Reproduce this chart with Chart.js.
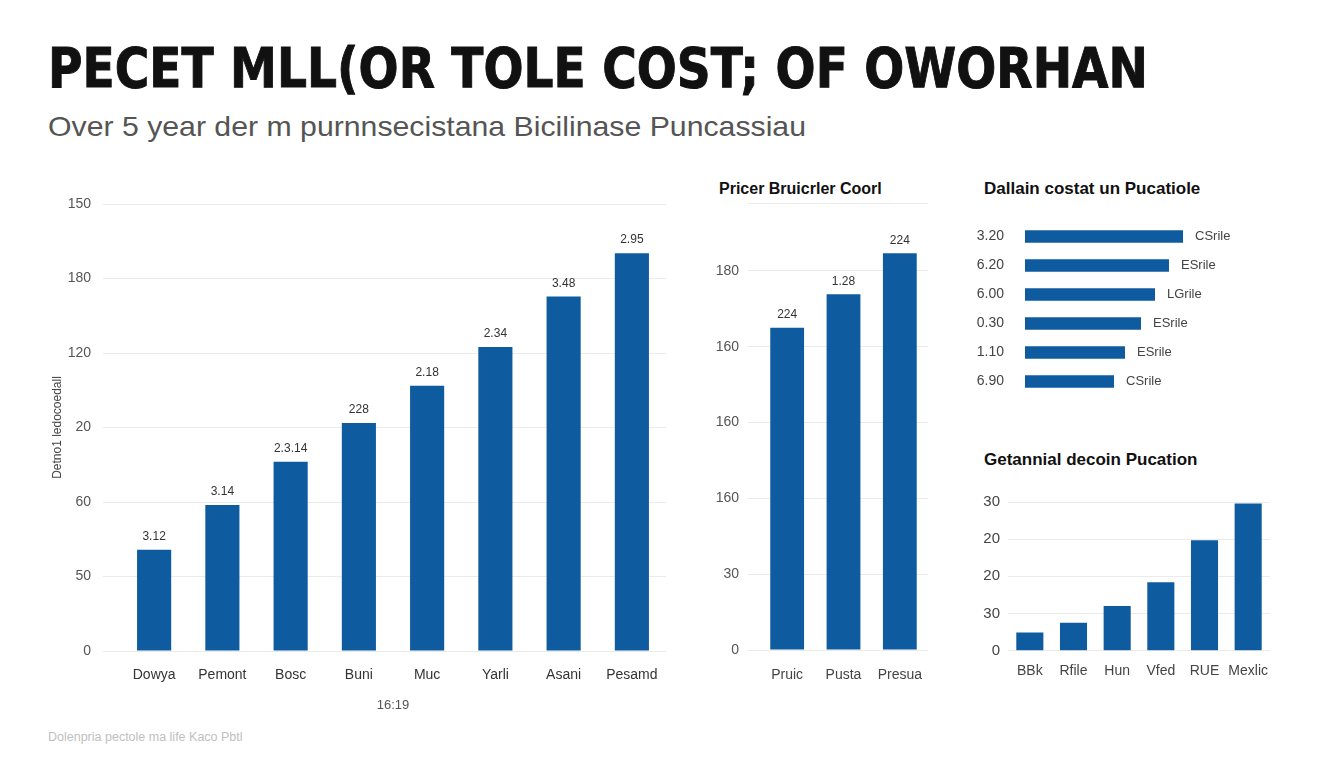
<!DOCTYPE html>
<html>
<head>
<meta charset="utf-8">
<script src="https://cdn.jsdelivr.net/npm/chart.js@4.4.1/dist/chart.umd.min.js"></script>
<style>
    body {
        margin: 0;
        width: 1344px;
        height: 768px;
        background: #fff;
        overflow: hidden;
        position: relative;
        font-family: "Liberation Sans", Arial, sans-serif;
    }
    .abs { position: absolute; }
    #title {
        left: 48px; top: 41px;
        font-family: "DejaVu Sans", sans-serif;
        font-size: 55px; font-weight: bold; line-height: 1;
        color: #111; white-space: nowrap;
        -webkit-text-stroke: 1px #111;
        transform-origin: left top;
    }
    #subtitle {
        left: 48px; top: 113px;
        font-size: 28px; line-height: 1;
        color: #555; white-space: nowrap;
        transform-origin: left top;
    }
    .ptitle {
        font-weight: bold; line-height: 1;
        color: #111; white-space: nowrap;
    }
    #footer {
        left: 48px; top: 731px;
        font-size: 12.5px; line-height: 1;
        color: #c0c0c0; white-space: nowrap;
    }
</style>
</head>
<body>
<div id="title" class="abs">PECET MLL(OR TOLE COST; OF OWORHAN</div>
<div id="subtitle" class="abs">Over 5 year der m purnnsecistana Bicilinase Puncassiau</div>

<div class="abs" style="left:40px; top:180px;"><canvas id="mainChart" width="650" height="533"></canvas></div>

<div class="abs ptitle" style="left:719px; top:181px; font-size:16px;">Pricer Bruicrler Coorl</div>
<div class="abs" style="left:690px; top:170px;"><canvas id="midChart" width="260" height="520"></canvas></div>

<div class="abs ptitle" style="left:984px; top:180px; font-size:17px;">Dallain costat un Pucatiole</div>
<div class="abs" style="left:960px; top:215px;"><canvas id="hbarChart" width="340" height="181"></canvas></div>

<div class="abs ptitle" style="left:984px; top:451px; font-size:17px;">Getannial decoin Pucation</div>
<div class="abs" style="left:960px; top:480px;"><canvas id="smallChart" width="340" height="220"></canvas></div>

<div id="footer" class="abs">Dolenpria pectole ma life Kaco Pbtl</div>

<script>
// Main chart data
const mainCategories = ['Dowya', 'Pemont', 'Bosc', 'Buni', 'Muc', 'Yarli', 'Asani', 'Pesamd'];
const mainValues = [34, 49, 63.5, 76.5, 89, 102, 119, 133.5];
const mainValueLabels = ['3.12', '3.14', '2.3.14', '228', '2.18', '2.34', '3.48', '2.95'];
const mainTickLabels = ['0', '50', '60', '20', '120', '180', '150'];

// Middle chart data
const midCategories = ['Pruic', 'Pusta', 'Presua'];
const midValues = [4.25, 4.69, 5.23];
const midValueLabels = ['224', '1.28', '224'];
const midTickValues = [0, 1, 2, 3, 4, 5, 5.894];
const midTickLabels = ['0', '30', '160', '160', '160', '180', ''];

// Horizontal bars (top right)
const hbarCategories = ['3.20', '6.20', '6.00', '0.30', '1.10', '6.90'];
const hbarValues = [158, 144, 130, 116, 100, 89];
const hbarEndLabels = ['CSrile', 'ESrile', 'LGrile', 'ESrile', 'ESrile', 'CSrile'];

// Small chart (bottom right)
const smallCategories = ['BBk', 'Rfile', 'Hun', 'Vfed', 'RUE', 'Mexlic'];
const smallValues = [4.9, 7.5, 12, 18.4, 29.7, 39.6];
const smallTickValues = [0, 10, 20, 30, 40];
const smallTickLabels = ['0', '30', '20', '20', '30'];

const BLUE = '#0e5ba0';
const GRID = '#ebebeb';
const FONT = '"Liberation Sans", Arial, sans-serif';

Chart.defaults.font.family = FONT;
Chart.defaults.color = '#444';
Chart.defaults.animation = false;

// fit heading widths to the layout
function fitWidth(id, target) {
    const el = document.getElementById(id);
    const w = el.getBoundingClientRect().width;
    el.style.transform = `scaleX(${target / w})`;
}
fitWidth('title', 1100);
fitWidth('subtitle', 758);

// Text next to bars
const barLabels = {
    id: 'barLabels',
    afterDatasetsDraw(chart, args, opts) {
        if (!opts.labels) return;
        const ctx = chart.ctx;
        const meta = chart.getDatasetMeta(0);
        ctx.save();
        ctx.font = opts.font;
        ctx.fillStyle = opts.color;
        meta.data.forEach((bar, i) => {
            if (opts.horizontal) {
                ctx.textAlign = 'left';
                ctx.textBaseline = 'middle';
                ctx.fillText(opts.labels[i], bar.x + opts.gap, bar.y);
            } else {
                ctx.textAlign = 'center';
                ctx.textBaseline = 'bottom';
                ctx.fillText(opts.labels[i], bar.x, bar.y - opts.gap);
            }
        });
        ctx.restore();
    }
};
Chart.register(barLabels);

const fixWidth = (w) => (scale) => { scale.width = w; };
const fixHeight = (h) => (scale) => { scale.height = h; };

// 1. Main chart
new Chart(document.getElementById('mainChart'), {
    type: 'bar',
    data: {
        labels: mainCategories,
        datasets: [{ data: mainValues, backgroundColor: BLUE, barPercentage: 0.5, categoryPercentage: 1 }]
    },
    options: {
        responsive: false,
        layout: { padding: { top: 24, right: 24, left: 0, bottom: 0 } },
        plugins: {
            legend: { display: false },
            tooltip: { enabled: false },
            barLabels: { labels: mainValueLabels, font: '12px ' + FONT, color: '#333', gap: 7 }
        },
        scales: {
            x: {
                grid: { display: false },
                border: { display: false },
                ticks: { font: { size: 14 }, color: '#333', padding: 8, maxRotation: 0, autoSkip: false },
                title: { display: true, text: '16:19', font: { size: 13 }, color: '#555', padding: { top: 0, bottom: 0 } },
                afterFit: fixHeight(62)
            },
            y: {
                min: 0, max: 150,
                grid: { color: GRID, tickLength: 17 },
                border: { display: false },
                ticks: { stepSize: 25, font: { size: 14 }, color: '#555', padding: 12,
                    callback: (v, i) => mainTickLabels[i] },
                title: { display: true, text: 'Detno1 ledocoedall', font: { size: 12 }, color: '#444', padding: { top: 10, bottom: 0 } },
                afterFit: fixWidth(80)
            }
        }
    }
});

// 2. Middle chart
new Chart(document.getElementById('midChart'), {
    type: 'bar',
    data: {
        labels: midCategories,
        datasets: [{ data: midValues, backgroundColor: BLUE, barPercentage: 0.6, categoryPercentage: 1 }]
    },
    options: {
        responsive: false,
        layout: { padding: { top: 33, right: 22, left: 0, bottom: 0 } },
        plugins: {
            legend: { display: false },
            tooltip: { enabled: false },
            barLabels: { labels: midValueLabels, font: '12px ' + FONT, color: '#333', gap: 7 }
        },
        scales: {
            x: {
                grid: { display: false },
                border: { display: false },
                ticks: { font: { size: 14 }, color: '#444', padding: 9, maxRotation: 0, autoSkip: false },
                afterFit: fixHeight(40)
            },
            y: {
                min: 0, max: 5.894,
                grid: { color: GRID, tickLength: 11 },
                border: { display: false },
                afterBuildTicks: (scale) => { scale.ticks = midTickValues.map(v => ({ value: v })); },
                ticks: { font: { size: 14 }, color: '#555', padding: 9,
                    callback: (v, i) => midTickLabels[i] },
                afterFit: fixWidth(69)
            }
        }
    }
});

// 3. Horizontal bars
new Chart(document.getElementById('hbarChart'), {
    type: 'bar',
    data: {
        labels: hbarCategories,
        datasets: [{ data: hbarValues, backgroundColor: BLUE, barPercentage: 0.43, categoryPercentage: 1 }]
    },
    options: {
        indexAxis: 'y',
        responsive: false,
        layout: { padding: { top: 7, right: 75, left: 0, bottom: 0 } },
        plugins: {
            legend: { display: false },
            tooltip: { enabled: false },
            barLabels: { labels: hbarEndLabels, font: '13px ' + FONT, color: '#444', gap: 12, horizontal: true }
        },
        scales: {
            x: { min: 0, max: 200, display: false },
            y: {
                grid: { display: false },
                border: { display: false },
                ticks: { font: { size: 14 }, color: '#444', padding: 13 },
                // labels have room already, drop the extra top/bottom padding
                afterFit: (scale) => { scale.width = 65; scale.paddingTop = 0; scale.paddingBottom = 0; }
            }
        }
    }
});

// 4. Small chart
new Chart(document.getElementById('smallChart'), {
    type: 'bar',
    data: {
        labels: smallCategories,
        datasets: [{ data: smallValues, backgroundColor: BLUE, barPercentage: 0.62, categoryPercentage: 1 }]
    },
    options: {
        responsive: false,
        layout: { padding: { top: 22, right: 30, left: 0, bottom: 0 } },
        plugins: {
            legend: { display: false },
            tooltip: { enabled: false }
        },
        scales: {
            x: {
                grid: { display: false },
                border: { display: false },
                ticks: { font: { size: 14 }, color: '#444', padding: 4, maxRotation: 0, minRotation: 0, autoSkip: false },
                afterFit: fixHeight(49.3)
            },
            y: {
                min: 0, max: 40,
                grid: { color: GRID, drawTicks: false },
                border: { display: false },
                afterBuildTicks: (scale) => { scale.ticks = smallTickValues.map(v => ({ value: v })); },
                ticks: { font: { size: 15 }, color: '#444', padding: 8,
                    callback: (v, i) => smallTickLabels[i] },
                afterFit: fixWidth(48)
            }
        }
    }
});
</script>
</body>
</html>
